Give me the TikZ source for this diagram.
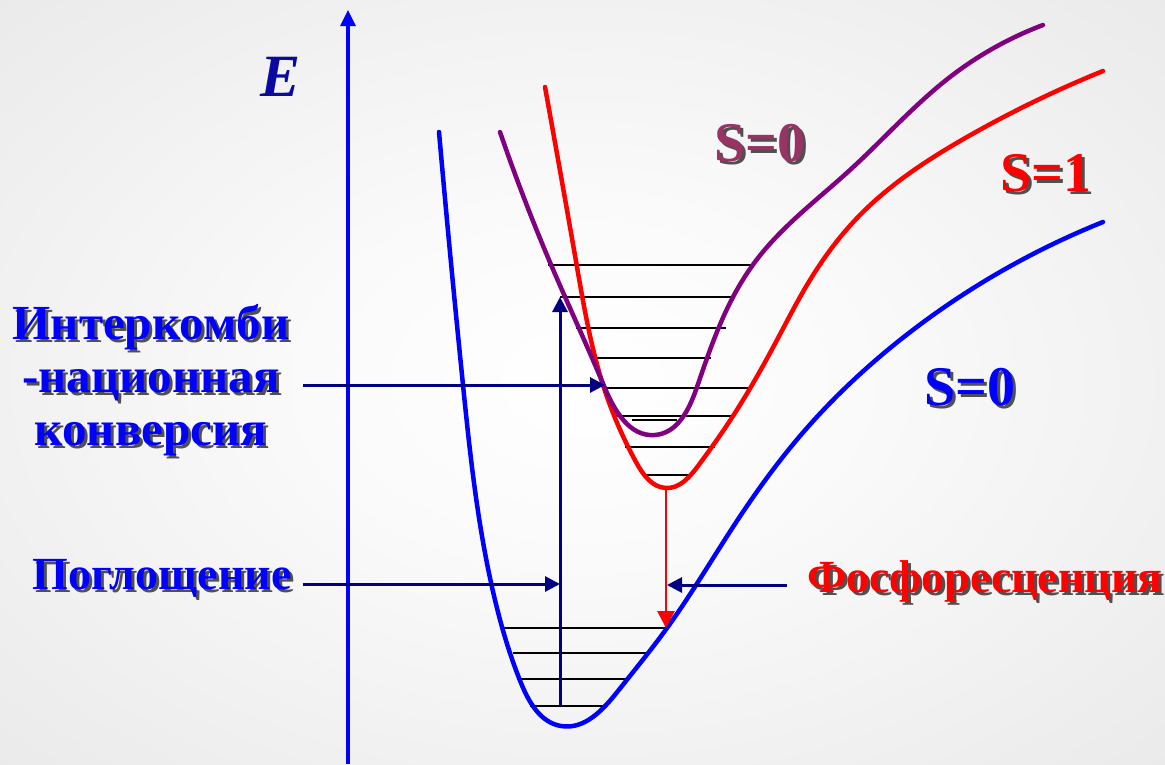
\documentclass[tikz,border=0pt]{standalone}
\usepackage{fontspec}
\setmainfont{Liberation Serif}
\usetikzlibrary{arrows.meta,hobby}
\definecolor{curveblue}{HTML}{0000FF}
\definecolor{curvepurple}{HTML}{800080}
\definecolor{curvered}{HTML}{FF0000}
\definecolor{navyarrow}{HTML}{000080}
\definecolor{textpurple}{HTML}{993366}
\definecolor{ecolor}{HTML}{0A0AA0}
\definecolor{shadowgray}{HTML}{505050}
\newcommand\shadowed[2]{\makebox[0pt][l]{\hspace{3pt}\raisebox{-3pt}{\textcolor{shadowgray}{#2}}}\textcolor{#1}{#2}}
\pgfdeclareradialshading{bgshade}{\pgfpoint{0bp}{0bp}}{color(0bp)=(white); color(12bp)=(white!98!black); color(50bp)=(black!12); color(71bp)=(black!17)}
\tikzset{
  curve/.style={line width=4.5pt, line cap=round, use Hobby shortcut},
  level/.style={line width=2.3pt, black},
  navy/.style={line width=3pt, navyarrow, -{Triangle[length=15pt,width=15pt]}},
  redarrow/.style={line width=2.8pt, curvered, -{Triangle[length=17pt,width=17pt]}},
  lbl/.style={font=\fontsize{46}{52}\selectfont\bfseries, inner sep=0pt},
  isclbl/.style={font=\fontsize{49}{53}\selectfont\bfseries, inner sep=0pt, align=center},
  slbl/.style={font=\fontsize{56}{60}\selectfont\bfseries, inner sep=0pt},
}
\begin{document}
\begin{tikzpicture}[x=1pt,y=-1pt]
\useasboundingbox (0,0) rectangle (1165,764);
\shade[shading=bgshade] (0,0) rectangle (1165,764);

% axis
\coordinate (axb) at (348,764);
\coordinate (axt) at (348,10);
\draw[line width=3.2pt, curveblue, -{Triangle[length=16pt,width=15pt]}] (axb) -- (axt);
\node[font=\fontsize{60}{62}\selectfont\bfseries\itshape, text=ecolor, inner sep=0pt] (E) at (281,77) {E};

% levels of excited states
\foreach \y/\a/\b in {265/548/752, 297/560/733, 328/576/726, 358/590/711, 388/605/750, 416/613/733, 420/632/677, 447/625/715, 475/645/690}
  \draw[level] (\a,\y) -- (\b,\y);
% levels of ground state
\foreach \y/\a/\b in {628/500/666, 653/513/648, 679/517/629, 706/530/605}
  \draw[level] (\a,\y) -- (\b,\y);

% ground state S=0 (blue)
\draw[curve, curveblue] (439,132) .. (463,385) .. (495,600) .. (521,683) .. (561,726) .. (618,691) .. (667,628) .. (733,527) .. (800,436) .. (900,340) .. (1000,272) .. (1103,222);

% triplet S=1 (red)
\draw[curve, curvered] (545,87) .. (577,267) .. (604,388) .. (636,462) .. (666,488) .. (698,466) .. (733,416) .. (777,340) .. (810,280) .. (860,215) .. (967,137) .. (1103,71);

% excited singlet S=0 (purple)
\draw[curve, curvepurple] (500,132) .. (552,267) .. (604,386) .. (655,435) .. (697,387) .. (733,297) .. (758,258) .. (850,170) .. (950,77) .. (1043,25);

% labels
\node[isclbl] (isc) at (151,382) {\shadowed{curveblue}{Интеркомби}\\\shadowed{curveblue}{-национная}\\\shadowed{curveblue}{конверсия}};
\node[lbl] (abs) at (162,580) {\shadowed{curveblue}{Поглощение}};
\node[lbl] (phos) at (985,583) {\shadowed{curvered}{Фосфоресценция}};
\node[slbl] (s0a) at (760,145) {\shadowed{textpurple}{S=0}};
\node[slbl] (s1) at (1046,175) {\shadowed{curvered}{S=1}};
\node[slbl] (s0b) at (970,389) {\shadowed{curveblue}{S=0}};

% transitions
\coordinate (absb) at (560,706);
\coordinate (abst) at (560,297);
\draw[navy] (absb) -- (abst);
\coordinate (redt) at (666,488);
\coordinate (redb) at (666,628);
\draw[redarrow] (redt) -- (redb);

% pointer arrows
\coordinate (iscs) at (303,385);
\coordinate (isce) at (605,385);
\draw[navy] (iscs) -- (isce);
\coordinate (abss) at (303,584);
\coordinate (abse) at (560,584);
\draw[navy] (abss) -- (abse);
\coordinate (phss) at (787,585);
\coordinate (phse) at (667,585);
\draw[navy] (phss) -- (phse);
\end{tikzpicture}
\end{document}
